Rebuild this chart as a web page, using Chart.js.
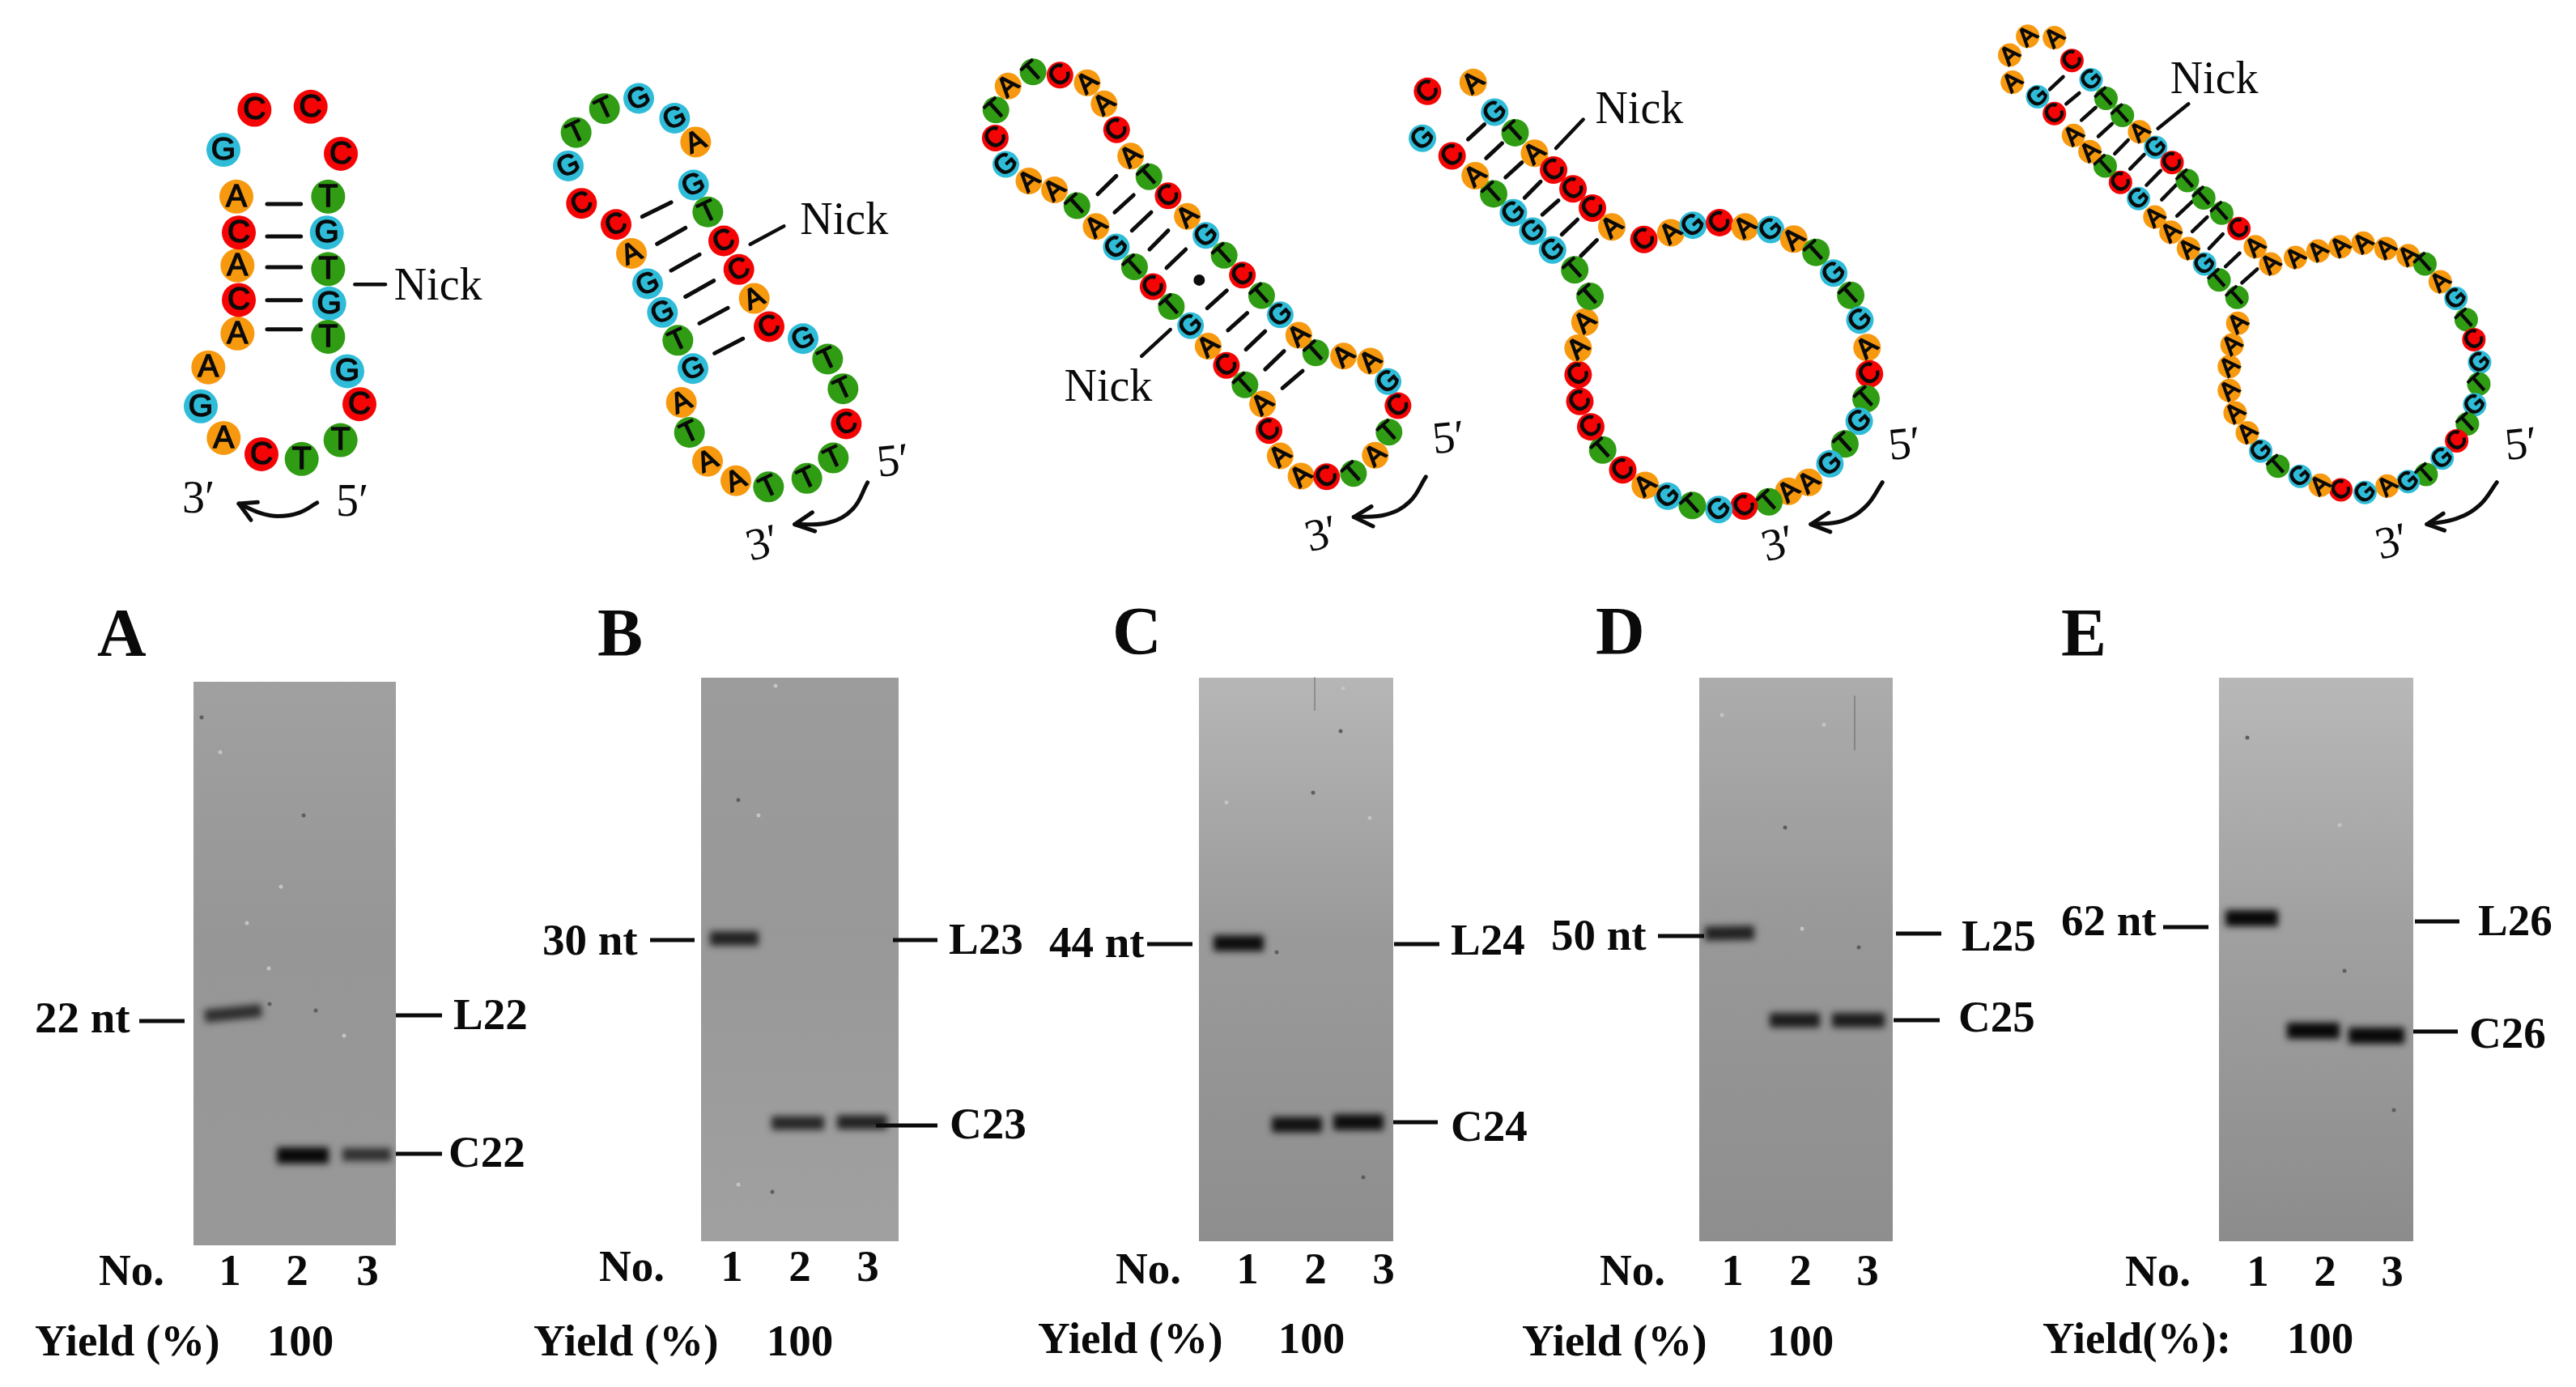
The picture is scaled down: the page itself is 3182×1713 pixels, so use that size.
<!DOCTYPE html>
<html>
<head>
<meta charset="utf-8">
<title>Hairpin ligation gels</title>
<script src="https://cdn.jsdelivr.net/npm/chart.js@4/dist/chart.umd.min.js"></script>
<style>
html, body { margin: 0; padding: 0; background: #fff; }
canvas { display: block; filter: blur(0.7px); }
</style>
</head>
<body>
<canvas id="figure" width="3182" height="1713"></canvas>
<script>
// nucleotides of each hairpin
var lettersA = 'CCCTGTGTGCTTCAGAACACAG'.split('');
var xA = [403,611,723,676,671,676,680,676,747,792,722,578,429,289,204,232,340,345,340,345,336,288];
var yA = [150,140,297,440,560,682,797,908,1023,1133,1253,1316,1300,1246,1140,1010,897,785,670,560,440,284];

var lettersB = 'CTTTAATAGTGGACCGTTGGAGTCCACGTT'.split('');
var xB = [1156,1108,1010,868,747,642,575,545,588,532,475,420,360,303,175,126,155,260,387,520,598,590,643,702,758,815,870,996,1087,1144];
var yB = [1125,1225,1285,1310,1292,1235,1150,1062,963,880,798,714,625,540,478,368,270,200,170,228,298,424,503,588,672,757,840,875,935,1022];

var lettersC = 'AACTATCGAATAGTCTGACTACAACTATCGAATAGTCTGACTAC'.split('');
var xC = [1015,1080,1160,1244,1312,1355,1383,1352,1297,1213,1126,1073,1015,957,897,840,783,725,665,605,548,504,465,412,327,243,165,127,125,158,230,310,380,440,503,560,618,675,735,790,847,905,960,980];
var yC = [1257,1318,1320,1310,1255,1185,1105,1032,970,955,945,892,830,772,710,650,590,532,470,412,350,270,192,128,105,95,138,210,295,375,425,452,500,563,625,685,745,805,863,925,983,1042,1100,1180];

var lettersD = 'CAGTACCCACAGCAGATGTGACTGTGAATCGTGACTCCCAATTGGGTACG'.split('');
var xD = [103,237,300,360,417,473,530,587,644,738,817,882,960,1035,1110,1178,1243,1295,1345,1372,1393,1400,1390,1370,1328,1284,1222,1163,1105,1032,958,880,808,742,676,617,582,550,545,545,565,580,535,470,412,355,297,243,175,88];
var yD = [105,78,168,230,292,343,400,458,515,553,533,510,502,515,523,552,592,655,722,797,880,960,1035,1103,1172,1232,1288,1315,1347,1360,1370,1358,1330,1297,1250,1190,1120,1043,962,882,803,725,645,585,528,472,415,360,300,247];

var lettersE = 'AAACGTTAGCTTTCAAAAAAAATAGTCGTGTCGTGAGCAGTGAAAAAATTGAAAGCTAACGA'.split('');
var xE = [90,137,207,253,303,342,385,430,472,515,555,598,645,690,733,773,838,897,955,1015,1075,1133,1177,1217,1258,1285,1305,1320,1318,1307,1288,1260,1222,1180,1133,1078,1020,957,903,850,792,747,712,680,665,665,672,687,685,638,600,558,512,470,427,380,340,300,257,207,163,97];
var yE = [130,78,82,145,198,250,297,342,385,427,477,525,567,610,660,708,690,672,660,650,665,685,708,757,803,862,917,980,1040,1097,1150,1197,1245,1290,1310,1322,1340,1333,1320,1295,1267,1225,1175,1120,1058,992,932,872,800,752,708,665,620,578,527,482,437,397,352,292,245,205];

// base pair ticks [x1, y1, x2, y2] and the nick pointer
var pairsA = [[450,465,575,465],[450,573,575,573],[450,676,575,676],[450,786,575,786],[450,883,575,883]];
var nickA = [[775,733,888,733]];
var pairsB = [[400,517,507,475],[455,597,560,550],[507,675,612,628],[560,752,665,705],[612,830,717,785],[668,918,773,875]];
var nickB = [[800,598,925,545]];
var pairsC = [[445,465,503,410],[498,520,557,468],[552,575,612,520],[607,632,665,575],[660,688,720,632],[787,810,848,757],[852,877,912,825],[908,935,968,880],[968,995,1027,940],[1022,1052,1085,1000]];
var nickC = [[582,955,672,875]];
var dotC = [{x: 762, y: 725}];
var pairsD = [[222,250,270,205],[275,307,322,262],[332,365,380,320],[388,427,435,378],[440,478,487,435],[497,538,543,493],[553,603,600,555]];
var nickD = [[480,277,560,190]];
var pairsE = [[195,225,230,190],[238,265,272,235],[278,310,315,275],[322,355,358,320],[365,403,400,365],[405,445,442,405],[448,490,485,450],[488,530,525,490],[528,575,568,535],[568,618,607,578],[612,665,648,625],[655,715,692,678],[698,760,738,722]];
var nickE = [[478,333,558,265]];

// curved 5' to 3' arrows: shaft points, then barb / tip / barb
var arrowXA = [635,570,490,420,345], arrowYA = [1462,1495,1507,1495,1465], headXA = [415,345,390], headYA = [1460,1465,1520];
var arrowXB = [1235,1180,1090,965], arrowYB = [1297,1375,1415,1420], headXB = [1030,965,1040], headYB = [1385,1420,1440];
var arrowXC = [1470,1420,1345,1245], arrowYC = [1320,1395,1435,1442], headXC = [1300,1245,1305], headYC = [1410,1442,1470];
var arrowXD = [1438,1390,1320,1228], arrowYD = [1288,1360,1405,1415], headXD = [1280,1228,1285], headYD = [1380,1415,1438];
var arrowXE = [1365,1320,1260,1182], arrowYE = [1312,1375,1412,1428], headXE = [1225,1182,1228], headYE = [1398,1428,1445];

// hairpin texts [text, x, baseline, tilt in degrees]
var textsA = [['Nick',920,785,0],['3\u2032',135,1495,0],['5\u2032',705,1505,0]];
var textsB = [['Nick',985,567,0],['3\u2032',802,1528,-15],['5\u2032',1275,1280,-6]];
var textsC = [['Nick',340,1090,0],['3\u2032',1107,1548,-15],['5\u2032',1495,1250,-6]];
var textsD = [['Nick',595,200,0],['3\u2032',1097,1528,-15],['5\u2032',1460,1220,-6]];
var textsE = [['Nick',510,235,0],['3\u2032',1060,1526,-15],['5\u2032',1390,1250,-6]];

// gels: left, right, top, bottom, and grey at top / middle / bottom
var gelLeft = [239,866,1481,2099,2741];
var gelRight = [489,1110,1721,2338,2981];
var gelTop = [842,837,837,837,837];
var gelBottom = [1538,1533,1533,1533,1533];
var gelGreyTop = [160,156,182,172,184];
var gelGreyMid = [150,152,154,152,160];
var gelGreyBottom = [152,160,142,142,140];

// bands [x1, y1, x2, y2, strength 0..1]
var bandsA = [[253,1255,323,1248,0.62],[342,1427,406,1427,1],[423,1426,483,1426,0.6]];
var bandsB = [[877,1159,937,1159,0.75],[953,1387,1018,1387,0.7],[1034,1386,1096,1386,0.75]];
var bandsC = [[1499,1165,1561,1165,0.95],[1571,1389,1633,1389,0.9],[1647,1386,1709,1386,0.95]];
var bandsD = [[2106,1153,2167,1152,0.75],[2186,1260,2248,1260,0.8],[2263,1260,2328,1260,0.8]];
var bandsE = [[2749,1134,2814,1134,1],[2825,1273,2890,1273,1],[2901,1279,2970,1279,1]];

// specks and scratches on the gels
var whiteSpeckX = [272,347,305,425,332,958,937,912,1659,1515,1692,2127,2226,2253,2890];
var whiteSpeckY = [929,1095,1140,1279,1196,847,1007,1463,850,991,1010,883,1147,895,1019];
var darkSpeckX = [375,249,333,390,954,912,1656,1577,1684,1622,2205,2296,2776,2896,2957];
var darkSpeckY = [1007,886,1240,1248,1472,988,903,1176,1454,979,1022,1170,911,1199,1371];
var scratches = [[1624,837,1624,877],[2291,860,2291,926]];

// tick lines next to the gels
var tickLines = [
  [172,1261,228,1261],[489,1254,546,1254],[489,1425,546,1425],
  [803,1161,858,1161],[1103,1161,1158,1161],[1082,1390,1158,1390],
  [1417,1166,1473,1166],[1722,1166,1778,1166],[1721,1386,1776,1386],
  [2048,1156,2105,1156],[2342,1153,2398,1153],[2339,1260,2396,1260],
  [2672,1145,2728,1145],[2983,1138,3038,1138],[2981,1274,3036,1274]
];

var panelLetters = [['A',120,810],['B',738,810],['C',1374,808],['D',1971,808],['E',2546,810]];
var boldLabels = [
  ['22 nt',43,1275],['L22',560,1271],['C22',554,1441],['No.',122,1587],['Yield (%)',43,1674],
  ['30 nt',670,1179],['L23',1172,1178],['C23',1173,1406],['No.',740,1582],['Yield (%)',659,1674],
  ['44 nt',1296,1182],['L24',1792,1179],['C24',1792,1409],['No.',1378,1585],['Yield (%)',1282,1671],
  ['50 nt',1916,1173],['L25',2423,1174],['C25',2419,1274],['No.',1976,1587],['Yield (%)',1880,1674],
  ['62 nt',2546,1155],['L26',3061,1155],['C26',3050,1294],['No.',2625,1588],['Yield(%):',2523,1671]
];
var centredLabels = [
  ['1',284,1587],['2',367,1587],['3',454,1587],['100',371,1674],
  ['1',904,1582],['2',988,1582],['3',1072,1582],['100',988,1674],
  ['1',1541,1585],['2',1625,1585],['3',1709,1585],['100',1620,1671],
  ['1',2140,1587],['2',2224,1587],['3',2307,1587],['100',2224,1674],
  ['1',2789,1588],['2',2872,1588],['3',2955,1588],['100',2866,1671]
];

var W = 3182, H = 1713;
var baseColors = { A: '#f7990f', C: '#f40404', G: '#2fbcd8', T: '#2f9c14' };

function toPoints(xs, ys) {
  return xs.map(function (x, i) { return { x: x, y: ys[i] }; });
}

function segmentPoints(segs) {
  var pts = [];
  segs.forEach(function (s) {
    pts.push({ x: s[0], y: s[1] }, { x: s[2], y: s[3] }, { x: null, y: null });
  });
  return pts;
}

function lineSet(data, id, width, extra) {
  return Object.assign({
    data: data,
    xAxisID: 'x' + id,
    yAxisID: 'y' + id,
    showLine: true,
    pointRadius: 0,
    borderColor: '#0c0c0c',
    borderWidth: width,
    borderCapStyle: 'round',
    borderJoinStyle: 'round',
    spanGaps: false,
    clip: false
  }, extra || {});
}

// one hairpin: the circles on top, then arrow, ticks and nick pointer
var hairpins = [
  { id: 'A', letters: lettersA, x: xA, y: yA, pairs: pairsA, nick: nickA, ax: arrowXA, ay: arrowYA, hx: headXA, hy: headYA, texts: textsA, left: 180, top: 80, sx: 3, sy: 2.703, r: 21, font: 39, tilt: 0 },
  { id: 'B', letters: lettersB, x: xB, y: yB, pairs: pairsB, nick: nickB, ax: arrowXB, ay: arrowYB, hx: headXB, hy: headYB, texts: textsB, left: 660, top: 50, sx: 3, sy: 2.376, r: 19, font: 35, tilt: -25 },
  { id: 'C', letters: lettersC, x: xC, y: yC, pairs: pairsC, nick: nickC, ax: arrowXC, ay: arrowYC, hx: headXC, hy: headYC, texts: textsC, left: 1180, top: 50, sx: 2.529, sy: 2.45, r: 16.5, font: 34, tilt: -42 },
  { id: 'D', letters: lettersD, x: xD, y: yD, pairs: pairsD, nick: nickD, ax: arrowXD, ay: arrowYD, hx: headXD, hy: headYD, texts: textsD, left: 1720, top: 70, sx: 2.376, sy: 2.45, r: 17, font: 34, tilt: -42 },
  { id: 'E', letters: lettersE, x: xE, y: yE, pairs: pairsE, nick: nickE, ax: arrowXE, ay: arrowYE, hx: headXE, hy: headYE, texts: textsE, left: 2440, top: 10, sx: 2.119, sy: 2.24, r: 14.5, font: 31, tilt: -42 }
];

var scales = {
  x: { type: 'linear', display: false, min: 0, max: W },
  y: { type: 'linear', display: false, min: 0, max: H, reverse: true }
};
var datasets = [];

hairpins.forEach(function (h) {
  // each hairpin has its own scale pair, its arrays are in those units
  scales['x' + h.id] = { type: 'linear', axis: 'x', display: false, min: -h.left * h.sx, max: (W - h.left) * h.sx };
  scales['y' + h.id] = { type: 'linear', axis: 'y', display: false, min: -h.top * h.sy, max: (H - h.top) * h.sy, reverse: true };
  datasets.push({
    data: toPoints(h.x, h.y),
    xAxisID: 'x' + h.id,
    yAxisID: 'y' + h.id,
    pointRadius: h.r,
    pointBackgroundColor: h.letters.map(function (l) { return baseColors[l]; }),
    pointBorderWidth: 0,
    clip: false,
    hairpin: h
  });
  datasets.push(lineSet(segmentPoints(h.pairs), h.id, h.id === 'E' ? 4.5 : 5));
  datasets.push(lineSet(segmentPoints(h.nick), h.id, 4.5));
  datasets.push(lineSet(toPoints(h.ax, h.ay), h.id, 5, { tension: 0.4 }));
  datasets.push(lineSet(toPoints(h.hx, h.hy), h.id, 5));
});

datasets.push({
  data: dotC, xAxisID: 'xC', yAxisID: 'yC',
  pointRadius: 7, pointBackgroundColor: '#0c0c0c', pointBorderWidth: 0
});

datasets.push(lineSet(segmentPoints(tickLines), '', 5, { xAxisID: 'x', yAxisID: 'y', borderCapStyle: 'butt' }));

[bandsA, bandsB, bandsC, bandsD, bandsE].forEach(function (bands) {
  bands.forEach(function (b) {
    datasets.push(lineSet([{ x: b[0], y: b[1] }, { x: b[2], y: b[3] }], '', 10 + 10 * b[4], {
      xAxisID: 'x',
      yAxisID: 'y',
      borderColor: 'rgba(8,8,8,' + (0.3 + 0.7 * b[4]) + ')',
      borderCapStyle: 'butt',
      blurred: true
    }));
  });
});

datasets.push({
  data: toPoints(whiteSpeckX, whiteSpeckY), xAxisID: 'x', yAxisID: 'y',
  pointRadius: 2.5, pointBackgroundColor: '#c4c4c4', pointBorderWidth: 0
});
datasets.push({
  data: toPoints(darkSpeckX, darkSpeckY), xAxisID: 'x', yAxisID: 'y',
  pointRadius: 2.5, pointBackgroundColor: '#5e5e5e', pointBorderWidth: 0
});
datasets.push(lineSet(segmentPoints(scratches), '', 2, { xAxisID: 'x', yAxisID: 'y', borderColor: 'rgba(70,70,70,0.35)' }));

function grey(v) {
  return 'rgb(' + v + ',' + v + ',' + v + ')';
}

function drawText(ctx, text, x, y, tilt) {
  ctx.save();
  ctx.translate(x, y);
  if (tilt) ctx.rotate(tilt * Math.PI / 180);
  ctx.fillText(text, 0, 0);
  ctx.restore();
}

var figurePlugin = {
  id: 'figure',
  // gel rectangles sit below every dataset
  beforeDatasetsDraw: function (chart) {
    var ctx = chart.ctx, sx = chart.scales.x, sy = chart.scales.y;
    gelLeft.forEach(function (left, i) {
      var x0 = sx.getPixelForValue(left), x1 = sx.getPixelForValue(gelRight[i]);
      var y0 = sy.getPixelForValue(gelTop[i]), y1 = sy.getPixelForValue(gelBottom[i]);
      var g = ctx.createLinearGradient(0, y0, 0, y1);
      g.addColorStop(0, grey(gelGreyTop[i]));
      g.addColorStop(0.45, grey(gelGreyMid[i]));
      g.addColorStop(1, grey(gelGreyBottom[i]));
      ctx.fillStyle = g;
      ctx.fillRect(x0, y0, x1 - x0, y1 - y0);
    });
  },
  beforeDatasetDraw: function (chart, args) {
    if (chart.data.datasets[args.index].blurred) {
      chart.ctx.save();
      chart.ctx.filter = 'blur(4px)';
    }
  },
  afterDatasetDraw: function (chart, args) {
    if (chart.data.datasets[args.index].blurred) chart.ctx.restore();
  },
  afterDatasetsDraw: function (chart) {
    var ctx = chart.ctx, sx = chart.scales.x, sy = chart.scales.y;
    ctx.save();
    ctx.fillStyle = '#0a0a0a';
    ctx.strokeStyle = '#0a0a0a';
    ctx.lineJoin = 'round';
    ctx.textBaseline = 'alphabetic';

    chart.data.datasets.forEach(function (ds, i) {
      if (!ds.hairpin) return;
      var h = ds.hairpin, rad = h.tilt * Math.PI / 180, pts = chart.getDatasetMeta(i).data;
      ctx.font = h.font + 'px "Liberation Sans", Arial, sans-serif';
      ctx.textAlign = 'center';
      ctx.textBaseline = 'middle';
      ctx.lineWidth = 1.5;
      pts.forEach(function (p, k) {
        ctx.save();
        ctx.translate(p.x, p.y);
        ctx.rotate(rad);
        ctx.fillText(h.letters[k], 0, 1);
        ctx.strokeText(h.letters[k], 0, 1);
        ctx.restore();
      });
      ctx.textAlign = 'left';
      ctx.textBaseline = 'alphabetic';
      ctx.font = 'normal 400 56px "Liberation Serif", "Times New Roman", Times, serif';
      h.texts.forEach(function (t) {
        drawText(ctx, t[0], chart.scales['x' + h.id].getPixelForValue(t[1]), chart.scales['y' + h.id].getPixelForValue(t[2]), t[3]);
      });
    });

    ctx.textAlign = 'left';
    ctx.font = 'bold 84px "Liberation Serif", "Times New Roman", serif';
    panelLetters.forEach(function (t) {
      drawText(ctx, t[0], sx.getPixelForValue(t[1]), sy.getPixelForValue(t[2]));
    });
    ctx.font = 'bold 55px "Liberation Serif", "Times New Roman", serif';
    boldLabels.forEach(function (t) {
      drawText(ctx, t[0], sx.getPixelForValue(t[1]), sy.getPixelForValue(t[2]));
    });
    ctx.textAlign = 'center';
    centredLabels.forEach(function (t) {
      drawText(ctx, t[0], sx.getPixelForValue(t[1]), sy.getPixelForValue(t[2]));
    });
    ctx.restore();
  }
};

new Chart(document.getElementById('figure').getContext('2d'), {
  type: 'scatter',
  data: { datasets: datasets },
  options: {
    responsive: false,
    animation: false,
    devicePixelRatio: 1,
    layout: { padding: 0, autoPadding: false },
    scales: scales,
    plugins: { legend: { display: false }, tooltip: { enabled: false } }
  },
  plugins: [figurePlugin]
});
</script>
</body>
</html>
